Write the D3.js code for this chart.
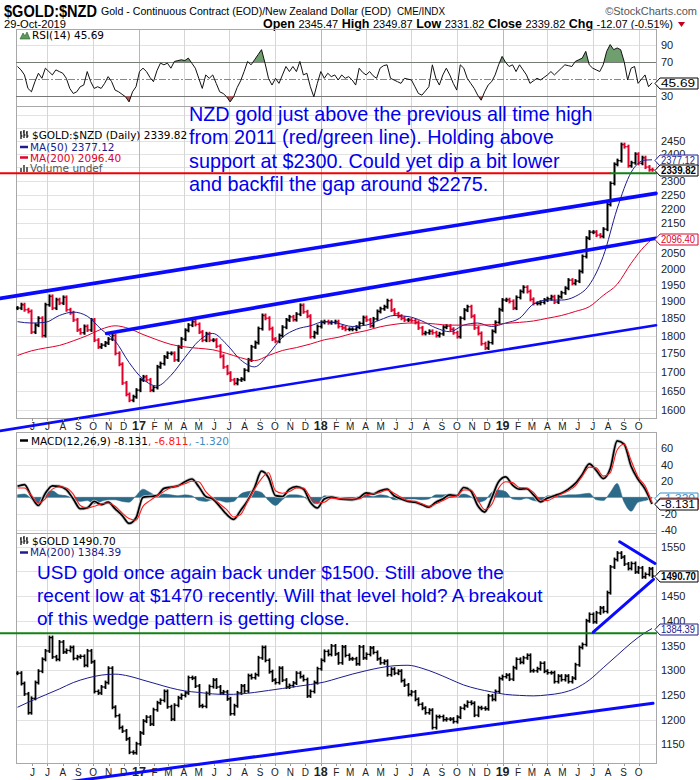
<!DOCTYPE html>
<html><head><meta charset="utf-8">
<script src="https://cdn.jsdelivr.net/npm/d3@7"></script>
<style>body{margin:0;background:#fff;}svg{display:block;font-family:"Liberation Sans",Arial,sans-serif;}</style>
</head><body>
<svg id="c" width="700" height="780"></svg>
<script>
// ---------------- DATA ----------------
const weekStart = "2016-05-02", weekEnd = "2019-10-29";
// NZD gold weekly closes
const nzdClose = [1880,1890,1875,1870,1810,1830,1850,1800,1890,1915,
 1880,1905,1895,1912,1875,1866,1845,1816,1808,1826,
 1816,1845,1787,1768,1773,1779,1790,1800,1750,1720,
 1670,1640,1625,1634,1651,1678,1686,1678,1651,1658,
 1713,1722,1740,1750,1750,1732,1768,1790,1815,1830,
 1840,1832,1810,1787,1805,1787,1787,1770,1742,1713,
 1696,1678,1669,1678,1680,1704,1732,1768,1780,1820,
 1858,1850,1820,1790,1784,1800,1824,1845,1854,1846,
 1862,1888,1869,1856,1797,1808,1826,1838,1840,1837,
 1838,1840,1826,1822,1818,1818,1818,1824,1835,1852,
 1845,1828,1848,1870,1878,1884,1902,1874,1863,1856,
 1850,1845,1845,1843,1838,1822,1806,1808,1812,1808,
 1800,1805,1824,1827,1818,1808,1797,1850,1874,1884,
 1856,1822,1806,1777,1765,1780,1812,1838,1875,1904,
 1905,1900,1880,1912,1930,1943,1930,1906,1894,1894,
 1897,1904,1908,1914,1898,1914,1926,1940,1965,1955,
 1962,1992,2040,2100,2120,2120,2110,2106,2130,2215,
 2290,2360,2374,2435,2427,2355,2366,2398,2364,2385,
 2350,2340,2339.82];
// every 4th week (+ last)
const nzdMA50 = [1840,1836,1838,1858,1868,1856,1818,1785,1725,1680,
 1662,1690,1738,1785,1806,1775,1732,1713,1748,1795,
 1818,1828,1840,1835,1826,1830,1845,1858,1855,1842,
 1822,1811,1830,1836,1826,1836,1850,1892,1904,1904,
 1915,1950,2040,2200,2330,2376,2377.12];
const nzdMA200 = [1744,1757,1765,1772,1785,1800,1818,1828,1820,1803,
 1788,1775,1768,1764,1760,1750,1738,1730,1744,1758,
 1766,1776,1788,1795,1806,1814,1825,1832,1836,1836,
 1833,1830,1830,1830,1831,1835,1838,1842,1850,1858,
 1870,1884,1918,1952,2018,2075,2096.40];
// weekly RSI(14)
const rsi14 = [65,61,55,39,35,47,57,51,63,59,
 55,61,59,57,51,39,33,35,41,43,
 59,47,39,41,39,45,53,47,37,35,
 32,29,23,35,41,59,63,59,52,47,
 60,69,67,69,63,71,72,73,72,75,
 69,63,51,39,55,51,55,45,35,33,
 29,23,29,40,48,59,71,67,73,79,
 85,69,51,43,51,45,55,65,59,65,
 59,71,55,57,41,29,45,59,51,57,
 53,55,49,55,51,53,49,43,63,58,
 55,59,54,51,63,66,67,51,49,47,
 45,51,50,49,41,33,31,36,41,67,
 51,43,55,63,55,45,37,67,63,51,
 45,39,31,25,35,43,47,55,67,77,
 70,65,67,59,67,61,55,45,48,51,
 49,52,55,59,55,59,63,67,66,65,
 71,73,75,83,67,63,61,59,67,83,
 91,85,87,85,71,49,63,65,45,50,
 55,41,45.69];
// every 2nd week
const macdLine = [13.5,15.5,1,-10,5,14,13.5,9.4,-2,-14,
 -13,-5,-9,-6,-14,-22,-32,-25,0,1,
 2,11,12.5,14,19,22.4,13,1,-2,-11,
 -21,-27,-16,-4,12,32,24,2,1,10,
 13,10,-6,-13,-2,0.4,-1.5,-2.5,-3,-0.5,
 5.5,4,8,10,2,-2,-5,-6,-9,-12,
 -6,-2,3,2,12,8,-10,-18,-1,19,
 25,15,10,10.5,3,-5.5,-1,2,5,10,
 17,28,41,33,23,35,69,65,38,22,
 10,-8.131];
const macdSignal = [11.4,11.5,2,-7,-2,10,13,11.4,4,-10,
 -13,-11,-8,-7,-11,-19,-26,-28,-11,-4,
 2,7,12,14,16.5,19.6,19,7,-1,-8,
 -15,-24,-21,-5,10,23,30,8,5,7,
 11.4,11.4,0,-7,-6,-1,-1.5,-2,-2,-2,
 3,4.5,6,9,5,0,-4,-5,-8,-11,
 -8,-4,0,2,9,9,-3,-15,-9,11,
 19,18,12,11.4,6,-3,-4,0,4,8,
 14,26,37,36,26,30,58,65,45,25,
 14,-6.811];
const macdHist = [3,4,-2,-9,6,8,3,2,-2,-5,
 -4,-8,-5,-3,-3,-5,-6,2,10,6,
 2,4,3,2,3,2,-4,-5,-3,-4,
 -6,-5,4,7,8,6,-4,-10,-3,3,
 3,1,-6,-8,2,1,0,-1,-1,1,
 3,1,3,2,-3,-3,-2,-2,-3,-2,
 3,3,4,2,4,1,-6,-4,6,9,
 7,-2,-3,-1,-4,-5,2,2,2,3,
 3,4,5,-3,-4,6,17,-6,-17,-6,
 -4,-1.32];
// USD gold weekly closes
const usdClose = [1294,1273,1252,1214,1243,1275,1298,1322,1339,1366,
 1327,1322,1357,1337,1340,1346,1324,1327,1328,1310,
 1339,1317,1257,1254,1266,1275,1304,1225,1208,1184,
 1177,1161,1134,1133,1151,1173,1197,1205,1191,1220,
 1234,1239,1257,1226,1201,1229,1244,1249,1254,1285,
 1284,1268,1228,1227,1253,1267,1280,1266,1254,1256,
 1242,1212,1228,1254,1268,1258,1289,1285,1291,1325,
 1346,1320,1297,1280,1275,1304,1280,1266,1269,1274,
 1294,1287,1281,1248,1257,1275,1303,1320,1338,1332,
 1349,1333,1315,1347,1330,1323,1323,1313,1347,1325,
 1332,1345,1336,1323,1315,1318,1291,1302,1294,1298,
 1279,1270,1251,1256,1241,1231,1223,1214,1219,1184,
 1206,1206,1200,1201,1201,1196,1205,1223,1228,1235,
 1233,1209,1224,1223,1222,1248,1241,1257,1283,1287,
 1290,1282,1305,1322,1316,1325,1330,1299,1299,1303,
 1314,1298,1295,1295,1277,1288,1281,1288,1277,1284,
 1311,1346,1352,1400,1413,1398,1416,1426,1419,1457,
 1509,1524,1537,1529,1515,1506,1516,1499,1507,1489,
 1494,1505,1490.70];
// every 4th week (+ last)
const usdMA200 = [1225,1238,1250,1262,1275,1284,1290,1292,1288,1280,
 1272,1264,1258,1255,1252,1251,1252,1255,1259,1263,
 1267,1271,1276,1284,1292,1299,1305,1309,1310,1304,
 1294,1282,1270,1262,1256,1251,1249,1248,1250,1254,
 1263,1280,1305,1330,1355,1376,1384.39];

const nzdTicks = [1600,1650,1700,1750,1800,1850,1900,1950,2000,2050,2100,2150,2200,2250,2300,2350,2400,2450];
const rsiTicks = [90,70,50,30];
const macdTicks = [60,40,20,0,-20,-40];
const usdTicks = [1150,1200,1250,1300,1350,1400,1450,1500,1550];

// drawn lines: [date, value]
const nzdChannelUpper = [["2016-03-28",1909],["2019-11-05",2254]];
const nzdChannelMid = [["2016-10-28",1806],["2019-11-05",2099.5]];
const nzdChannelLower = [["2016-03-28",1548],["2019-11-05",1829.5]];
const nzdPrevHigh = 2327, nzdPrevHighRedEnd = "2019-08-05";
const usdSupport = [["2016-07-26",1071.7],["2019-10-30",1233]];
const usdWedgeUpper = [["2019-08-24",1560],["2019-11-03",1516]];
const usdWedgeLower = [["2019-07-02",1377],["2019-10-31",1484]];
const usdResistance = 1375;

const nzdNote = ["NZD gold just above the previous all time high","from 2011 (red/green line). Holding above","support at $2300. Could yet dip a bit lower","and backfil the gap around $2275."];
const usdNote = ["USD gold once again back under $1500. Still above the","recent low at $1470 recently. Will that level hold? A breakout","of this wedge pattern is getting close."];

// ---------------- SETUP ----------------
const svg = d3.select("#c");
const X0 = 16, X1 = 656;
const parse = d3.utcParse("%Y-%m-%d");
const x = d3.scaleUtc().domain([parse("2016-04-29"), parse("2019-11-05")]).range([X0, X1]);
const weeks = d3.utcMonday.range(parse(weekStart), parse(weekEnd));
const weeks2 = weeks.filter((d,i)=> i%2===0);
const weeks4 = weeks.filter((d,i)=> i%4===0 || i===weeks.length-1);

const P = {rsi:{top:29,bottom:106}, main:{top:106,bottom:418}, macd:{top:432,bottom:533}, usd:{top:533,bottom:763}};
const yRSI = d3.scaleLinear().domain([30,70]).range([96,62.3]);
const yMain = d3.scaleLog().domain([1600,2450]).range([410,140.7]);
const yMACD = d3.scaleLinear().domain([-40,60]).range([530,448.3]);
const yUSD = d3.scaleLinear().domain([1150,1550]).range([744.3,546.7]);

const RED = "#e0002a", NAVY = "#1c1c8c", BLUE = "#0a0aff", GREEN = "#128012";
const defs = svg.append("defs");
function clip(id, p){ defs.append("clipPath").attr("id",id).append("rect").attr("x",X0).attr("y",p.top).attr("width",X1-X0).attr("height",p.bottom-p.top); return `url(#${id})`; }

const months = d3.utcMonth.range(parse("2016-05-01"), parse("2019-11-01"));
const quarters = months.filter(m=> m.getUTCMonth()%3===0);

function gridPanel(p, y, ticks){
  const g = svg.append("g");
  g.selectAll(".h").data(ticks).join("line").attr("x1",X0).attr("x2",X1)
    .attr("y1",d=>Math.round(y(d))+0.5).attr("y2",d=>Math.round(y(d))+0.5).attr("stroke","#e2e2e2");
  g.selectAll(".v").data(quarters).join("line")
    .attr("x1",d=>Math.round(x(d))+0.5).attr("x2",d=>Math.round(x(d))+0.5)
    .attr("y1",p.top).attr("y2",p.bottom)
    .attr("stroke",d=>d.getUTCMonth()===0?"#b8b8b8":"#d6d6d6");
  g.append("rect").attr("x",X0+0.5).attr("y",p.top+0.5).attr("width",X1-X0).attr("height",p.bottom-p.top)
    .attr("fill","none").attr("stroke","#a8a8a8");
  return g;
}
function axisLabels(y, ticks, hideNear){
  const g = svg.append("g").attr("font-size","11px").attr("fill","#222");
  ticks.forEach(t=>{
    const yy = y(t);
    if (hideNear.some(h=>Math.abs(y(h)-yy)<6)) return;
    g.append("text").attr("x",661).attr("y",yy+4).text(t);
  });
}
function tag(yv, label, stroke, color, bold, showText=true){
  const h = 11, yy = Math.round(yv)+0.5;
  svg.append("path").attr("d",`M655,${yy} L660,${yy-h/2} L698,${yy-h/2} L698,${yy+h/2} L660,${yy+h/2} Z`)
    .attr("fill","#fff").attr("stroke",stroke).attr("stroke-width",1);
  if (showText) svg.append("text").attr("x",661).attr("y",yy+3.8).attr("font-size","10.5px").attr("fill",color)
    .attr("font-weight",bold?"bold":"normal").attr("textLength",bold?35:34).attr("lengthAdjust","spacingAndGlyphs").text(label);
}
function bars(g, dates, vals, y, up, down, w){
  dates.forEach((d,i)=>{
    const o = i>0 ? vals[i-1] : vals[i], c = vals[i];
    const xx = Math.round(x(d))+0.5, col = c>=o ? up : down;
    const a = y(Math.max(o,c)), b = y(Math.min(o,c));
    g.append("line").attr("x1",xx).attr("x2",xx).attr("y1",a-2).attr("y2",b+2).attr("stroke",col).attr("stroke-width",w);
    g.append("line").attr("x1",xx-2).attr("x2",xx).attr("y1",y(o)).attr("y2",y(o)).attr("stroke",col).attr("stroke-width",1.3);
    g.append("line").attr("x1",xx).attr("x2",xx+2).attr("y1",y(c)).attr("y2",y(c)).attr("stroke",col).attr("stroke-width",1.3);
  });
}
function seg(pts, y, color, w){
  svg.append("path").attr("d", d3.line().x(p=>x(parse(p[0]))).y(p=>y(p[1]))(pts))
    .attr("stroke",color).attr("stroke-width",w).attr("fill","none").attr("stroke-linecap","round");
}

// ---------------- HEADER ----------------
svg.append("text").attr("x",4).attr("y",17).attr("font-size","17px").attr("font-weight","bold")
  .attr("textLength",93).attr("lengthAdjust","spacingAndGlyphs").text("$GOLD:$NZD");
svg.append("text").attr("x",101).attr("y",15).attr("font-size","11px")
  .attr("textLength",290).attr("lengthAdjust","spacingAndGlyphs").text("Gold - Continuous Contract (EOD)/New Zealand Dollar (EOD)");
svg.append("text").attr("x",397).attr("y",15).attr("font-size","10px")
  .attr("textLength",48).attr("lengthAdjust","spacingAndGlyphs").text("CME/INDX");
svg.append("text").attr("x",697).attr("y",15).attr("font-size","11px").attr("fill","#555").attr("text-anchor","end").text("©StockCharts.com");
svg.append("text").attr("x",4).attr("y",28).attr("font-size","11px")
  .attr("textLength",62).attr("lengthAdjust","spacingAndGlyphs").text("29-Oct-2019");
const hdrFields = [["Open","2345.47"],["High","2349.87"],["Low","2331.82"],["Close","2339.82"],["Chg","-12.07 (-0.51%)"]];
const ht = svg.append("text").attr("x",263).attr("y",28).attr("font-size","11px")
  .attr("textLength",410).attr("lengthAdjust","spacingAndGlyphs");
hdrFields.forEach((f,i)=>{
  ht.append("tspan").attr("font-weight","bold").attr("font-size","12.5px").text((i?" ":"")+f[0]+" ");
  ht.append("tspan").text(f[1]);
});
svg.append("path").attr("d","M678,22 L685,22 L681.5,27 Z").attr("fill","#c00020");

// ---------------- RSI PANEL ----------------
gridPanel(P.rsi, yRSI, [90]);
const cR = clip("cR", P.rsi);
[70,30].forEach(v=> svg.append("line").attr("x1",X0).attr("x2",X1).attr("y1",Math.round(yRSI(v))+0.5).attr("y2",Math.round(yRSI(v))+0.5).attr("stroke","#777"));
svg.append("line").attr("x1",X0).attr("x2",X1).attr("y1",Math.round(yRSI(50))+0.5).attr("y2",Math.round(yRSI(50))+0.5)
  .attr("stroke","#888").attr("stroke-dasharray","7,2,2,2");
defs.append("clipPath").attr("id","cR70").append("rect").attr("x",X0).attr("y",P.rsi.top).attr("width",X1-X0).attr("height",yRSI(70)-P.rsi.top);
defs.append("clipPath").attr("id","cR30").append("rect").attr("x",X0).attr("y",yRSI(30)).attr("width",X1-X0).attr("height",P.rsi.bottom-yRSI(30));
const rsiPts = weeks.map((d,i)=>[d,rsi14[i]]);
svg.append("path").attr("clip-path","url(#cR70)").attr("fill","#6f9f6f").attr("stroke","none")
  .attr("d", d3.area().x(p=>x(p[0])).y0(yRSI(70)).y1(p=>yRSI(p[1]))(rsiPts));
svg.append("path").attr("clip-path","url(#cR30)").attr("fill","#a85a5a").attr("stroke","none")
  .attr("d", d3.area().x(p=>x(p[0])).y0(yRSI(30)).y1(p=>yRSI(p[1]))(rsiPts));
svg.append("path").attr("clip-path",cR).attr("fill","none").attr("stroke","#111").attr("stroke-width",1)
  .attr("d", d3.line().x(p=>x(p[0])).y(p=>yRSI(p[1]))(rsiPts));
axisLabels(yRSI, rsiTicks, [45.69]);
svg.append("path").attr("d","M20,39 L23,33 L25,36 L27,32 L30,39 Z").attr("fill","#5c9a5c").attr("stroke","#2c5a2c").attr("stroke-width",0.6);
svg.append("text").attr("x",32).attr("y",39).attr("font-family","DejaVu Sans").attr("font-size","10.5px").text("RSI(14) 45.69");
tag(yRSI(45.69), "45.69", "#000", "#000", false);

// ---------------- MAIN PANEL ----------------
gridPanel(P.main, yMain, nzdTicks.concat([2500,2550]));
const cM = clip("cM", P.main);
const gm = svg.append("g").attr("clip-path",cM);
bars(gm, weeks, nzdClose, yMain, "#000", RED, 2);
gm.append("path").attr("fill","none").attr("stroke",NAVY).attr("stroke-width",1)
  .attr("d", d3.line().curve(d3.curveMonotoneX).x((d,i)=>x(weeks4[i])).y(d=>yMain(d))(nzdMA50));
gm.append("path").attr("fill","none").attr("stroke",RED).attr("stroke-width",1)
  .attr("d", d3.line().curve(d3.curveMonotoneX).x((d,i)=>x(weeks4[i])).y(d=>yMain(d))(nzdMA200));
seg(nzdChannelUpper, yMain, BLUE, 3.6);
seg(nzdChannelMid, yMain, BLUE, 3.6);
seg(nzdChannelLower, yMain, BLUE, 2.6);
seg([["2016-03-28",nzdPrevHigh],[nzdPrevHighRedEnd,nzdPrevHigh]], yMain, "#f00000", 2);
seg([[nzdPrevHighRedEnd,nzdPrevHigh],["2019-11-05",nzdPrevHigh]], yMain, GREEN, 2);
axisLabels(yMain, nzdTicks, [2377.12, 2339.82, 2096.40]);
tag(yMain(2096.40), "2096.40", RED, RED, false);
tag(yMain(2377.12), "2377.12", NAVY, NAVY, false);
tag(yMain(2339.82), "2339.82", "#000", "#000", true);
// legend
const lg = svg.append("g").attr("font-family","DejaVu Sans").attr("font-size","10.5px");
lg.append("path").attr("d","M21,131v8M20,133h1M21,136h1.5M24,130v8M23,132h1M24,135h1.5M27,131v7M26,133h1M27,136h1.5").attr("stroke","#000").attr("stroke-width",1.2);
lg.append("text").attr("x",32).attr("y",139).text("$GOLD:$NZD (Daily) 2339.82");
lg.append("line").attr("x1",20).attr("x2",28).attr("y1",147).attr("y2",147).attr("stroke",NAVY).attr("stroke-width",2.5);
lg.append("text").attr("x",30).attr("y",151).attr("fill",NAVY).text("MA(50) 2377.12");
lg.append("line").attr("x1",20).attr("x2",28).attr("y1",157.5).attr("y2",157.5).attr("stroke",RED).attr("stroke-width",2.5);
lg.append("text").attr("x",30).attr("y",161.5).attr("fill",RED).text("MA(200) 2096.40");
lg.append("path").attr("d","M20,172v-4h2v4zM23,172v-7h2v7zM26,172v-5h2v5z").attr("fill","#666");
lg.append("text").attr("x",30).attr("y",172).attr("fill","#555").text("Volume undef");
// annotation
const na = svg.append("g").attr("font-size","19.8px").attr("fill","#0000ee");
nzdNote.forEach((t,i)=> na.append("text").attr("x",189).attr("y",121+i*23.4).text(t));

// ---------------- X AXIS LABELS ----------------
function monthAxis(yBase, yTickTop){
  const g = svg.append("g").attr("fill","#222");
  months.forEach(m=>{
    const xx = x(m);
    if (xx < X0+8) return;
    g.append("line").attr("x1",Math.round(xx)+0.5).attr("x2",Math.round(xx)+0.5).attr("y1",yTickTop).attr("y2",yTickTop+3).attr("stroke","#999");
    const jan = m.getUTCMonth()===0;
    g.append("text").attr("x",xx).attr("y",yBase).attr("text-anchor","middle")
      .attr("font-size",jan?"12.5px":"10px").attr("font-weight",jan?"bold":"normal")
      .text(jan ? String(m.getUTCFullYear()).slice(2) : "JFMAMJJASOND"[m.getUTCMonth()]);
  });
}
monthAxis(429.5, P.main.bottom);
monthAxis(775.5, P.usd.bottom);

// ---------------- MACD PANEL ----------------
gridPanel(P.macd, yMACD, macdTicks);
const cD = clip("cD", P.macd);
const gd = svg.append("g").attr("clip-path",cD);
gd.append("path").attr("fill","#2b6a88").attr("stroke","#2b6a88").attr("stroke-width",0.5)
  .attr("d", d3.area().curve(d3.curveMonotoneX).x((d,i)=>x(weeks2[i])).y0(yMACD(0)).y1(d=>yMACD(d))(macdHist));
gd.append("path").attr("fill","none").attr("stroke","#c8c8c8").attr("stroke-width",3.4)
  .attr("d", d3.line().curve(d3.curveMonotoneX).x((d,i)=>x(weeks2[i])).y(d=>yMACD(d))(macdLine));
gd.append("path").attr("fill","none").attr("stroke","#000").attr("stroke-width",1.7)
  .attr("d", d3.line().curve(d3.curveMonotoneX).x((d,i)=>x(weeks2[i])).y(d=>yMACD(d))(macdLine));
gd.append("path").attr("fill","none").attr("stroke","#ff1a1a").attr("stroke-width",1.1)
  .attr("d", d3.line().curve(d3.curveMonotoneX).x((d,i)=>x(weeks2[i])).y(d=>yMACD(d))(macdSignal));
axisLabels(yMACD, macdTicks, [-1.32]);
tag(yMACD(-1.32), "-1.320", "#3a8cc0", "#3a8cc0", false);
tag(yMACD(-6.811), "-6.811", "#ff1a1a", "#ff1a1a", false, false);
tag(yMACD(-8.131), "-8.131", "#000", "#000", false);
svg.append("line").attr("x1",20).attr("x2",28).attr("y1",440.5).attr("y2",440.5).attr("stroke","#000").attr("stroke-width",2.5);
const ml = svg.append("text").attr("x",31).attr("y",444.5).attr("font-family","DejaVu Sans").attr("font-size","10.5px");
ml.append("tspan").attr("fill","#000").text("MACD(12,26,9) -8.131");
ml.append("tspan").attr("fill","#ff1a1a").text(", -6.811");
ml.append("tspan").attr("fill","#3a8cc0").text(", -1.320");

// ---------------- USD PANEL ----------------
gridPanel(P.usd, yUSD, usdTicks);
const cU = clip("cU", P.usd);
const gu = svg.append("g").attr("clip-path",cU);
bars(gu, weeks, usdClose, yUSD, "#000", "#000", 1.8);
gu.append("path").attr("fill","none").attr("stroke",NAVY).attr("stroke-width",1)
  .attr("d", d3.line().curve(d3.curveMonotoneX).x((d,i)=>x(weeks4[i])).y(d=>yUSD(d))(usdMA200));
seg([["2016-03-28",usdResistance],["2019-11-05",usdResistance]], yUSD, GREEN, 2);
seg(usdSupport, yUSD, BLUE, 3);
seg(usdWedgeUpper, yUSD, BLUE, 3);
seg(usdWedgeLower, yUSD, BLUE, 3);
axisLabels(yUSD, usdTicks, [1490.70]);
tag(yUSD(1384.39), "1384.39", NAVY, NAVY, false);
tag(yUSD(1490.70), "1490.70", "#000", "#000", true);
const ul = svg.append("g").attr("font-family","DejaVu Sans").attr("font-size","10.5px");
ul.append("path").attr("d","M21,537v8M20,539h1M21,542h1.5M24,536v8M23,538h1M24,541h1.5M27,537v7M26,539h1M27,542h1.5").attr("stroke","#000").attr("stroke-width",1.2);
ul.append("text").attr("x",32).attr("y",545).text("$GOLD 1490.70");
ul.append("line").attr("x1",20).attr("x2",28).attr("y1",552.5).attr("y2",552.5).attr("stroke",NAVY).attr("stroke-width",2.5);
ul.append("text").attr("x",30).attr("y",556).attr("fill",NAVY).text("MA(200) 1384.39");
const ua = svg.append("g").attr("font-size","19px").attr("fill","#0000ee");
usdNote.forEach((t,i)=> ua.append("text").attr("x",37).attr("y",579+i*23).text(t));
</script>
</body></html>
